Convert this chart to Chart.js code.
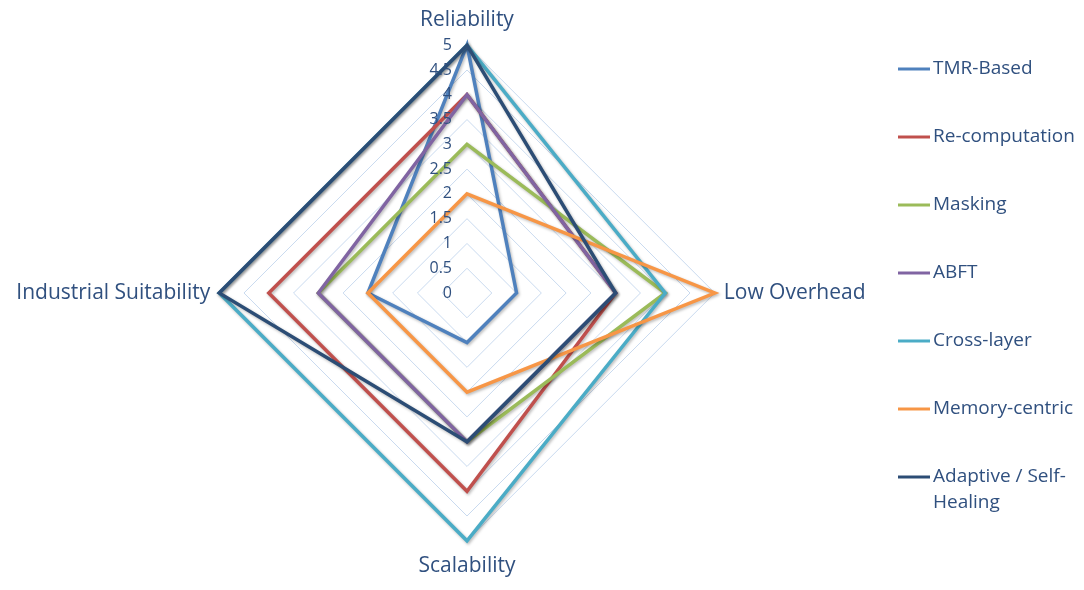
<!DOCTYPE html>
<html>
<head>
<meta charset="utf-8">
<script src="https://cdn.jsdelivr.net/npm/chart.js@4.4.1/dist/chart.umd.min.js"></script>
<style>
  html, body { margin: 0; padding: 0; background: #ffffff; overflow: hidden; }
  #wrap { width: 1084px; height: 590px; position: relative; overflow: hidden; }
  #c { position: absolute; left: -60px; top: 0; }
</style>
</head>
<body>
<div id="wrap"><canvas id="c" width="1144" height="590"></canvas></div>
<script>
// ---- data ----
const categories = ['Reliability', 'Low Overhead', 'Scalability', 'Industrial Suitability'];
const seriesNames = ['TMR-Based', 'Re-computation', 'Masking', 'ABFT', 'Cross-layer', 'Memory-centric', 'Adaptive / Self-Healing'];
const tmrBased      = [5, 1, 1, 2];
const reComputation = [4, 3, 4, 4];
const masking       = [3, 4, 3, 3];
const abft          = [4, 3, 3, 3];
const crossLayer    = [5, 4, 5, 5];
const memoryCentric = [2, 5, 2, 2];
const adaptiveSelfHealing = [5, 3, 3, 5];
const tickLabels = ['0', '0.5', '1', '1.5', '2', '2.5', '3', '3.5', '4', '4.5', '5'];

// ---- style ----
const seriesColors = ['#4F81BD', '#C0504D', '#9BBB59', '#8064A2', '#4BACC6', '#F79646', '#2C4D75'];
const textColor = '#30507F';
const fontFamily = '"Open Sans", Lato, sans-serif';
const labelSize = 21;
const legendSize = 19;
const tickSize = 16;
const canvasShift = 60; // canvas is offset 60px to the left of the page

const seriesValues = [tmrBased, reComputation, masking, abft, crossLayer, memoryCentric, adaptiveSelfHealing];

const datasets = seriesNames.map((name, i) => ({
  label: name,
  data: seriesValues[i],
  borderColor: seriesColors[i],
  backgroundColor: seriesColors[i],
  borderWidth: 3.5,
  pointRadius: 0,
  pointHoverRadius: 0,
  fill: false,
  tension: 0,
  borderJoinStyle: 'miter',
  order: seriesNames.length - i
}));

// shadow under the series lines
const shadowPlugin = {
  id: 'shadow',
  beforeDatasetsDraw(chart) {
    const ctx = chart.ctx;
    ctx.save();
    ctx.shadowColor = 'rgba(0,0,0,0.28)';
    ctx.shadowBlur = 3;
    ctx.shadowOffsetX = 1.2;
    ctx.shadowOffsetY = 1.5;
  },
  afterDatasetsDraw(chart) {
    chart.ctx.restore();
  }
};

// tick labels drawn to the left of the vertical axis, positioned by the radial scale
const tickPlugin = {
  id: 'ticksLeft',
  afterDatasetsDraw(chart) {
    const scale = chart.scales.r;
    const ctx = chart.ctx;
    ctx.save();
    ctx.font = tickSize + 'px ' + fontFamily;
    ctx.fillStyle = textColor;
    ctx.textAlign = 'right';
    ctx.textBaseline = 'middle';
    tickLabels.forEach(t => {
      const d = scale.getDistanceFromCenterForValue(parseFloat(t));
      ctx.fillText(t, scale.xCenter - 15, scale.yCenter - d);
    });
    ctx.restore();
  }
};

// legend on the right
const legendPlugin = {
  id: 'rightLegend',
  afterDraw(chart) {
    const ctx = chart.ctx;
    ctx.save();
    ctx.font = legendSize + 'px ' + fontFamily;
    ctx.textBaseline = 'middle';
    ctx.textAlign = 'left';
    const x0 = 898 + canvasShift, x1 = 930 + canvasShift, tx = 933 + canvasShift;
    const y0 = 69, step = 68;
    const maxW = 160;
    chart.data.datasets.forEach((ds, i) => {
      const y = y0 + i * step;
      ctx.strokeStyle = ds.borderColor;
      ctx.lineWidth = 3;
      ctx.beginPath();
      ctx.moveTo(x0, y);
      ctx.lineTo(x1, y);
      ctx.stroke();
      // wrap text
      const parts = ds.label.split(/(?<=[ \-])/);
      const lines = [];
      let cur = '';
      parts.forEach(p => {
        if (cur && ctx.measureText(cur + p).width > maxW) {
          lines.push(cur.replace(/ +$/, ''));
          cur = p;
        } else cur += p;
      });
      if (cur) lines.push(cur);
      ctx.fillStyle = textColor;
      lines.forEach((ln, k) => ctx.fillText(ln, tx, y + k * 26));
    });
    ctx.restore();
  }
};

new Chart(document.getElementById('c'), {
  type: 'radar',
  data: { labels: categories, datasets },
  options: {
    responsive: false,
    animation: false,
    layout: { padding: { left: 0, right: 90, top: 8, bottom: 10 } },
    plugins: {
      legend: { display: false },
      tooltip: { enabled: false }
    },
    elements: { line: { borderJoinStyle: 'miter' } },
    scales: {
      r: {
        min: 0,
        max: 5,
        ticks: { stepSize: 0.5, display: false },
        grid: { color: '#C9DAEF', lineWidth: 1 },
        angleLines: { display: false },
        pointLabels: {
          color: textColor,
          font: { family: fontFamily, size: labelSize },
          padding: ctx => (ctx.index % 2 === 0 ? 13 : 9)
        }
      }
    }
  },
  plugins: [shadowPlugin, tickPlugin, legendPlugin]
});
</script>
</body>
</html>
